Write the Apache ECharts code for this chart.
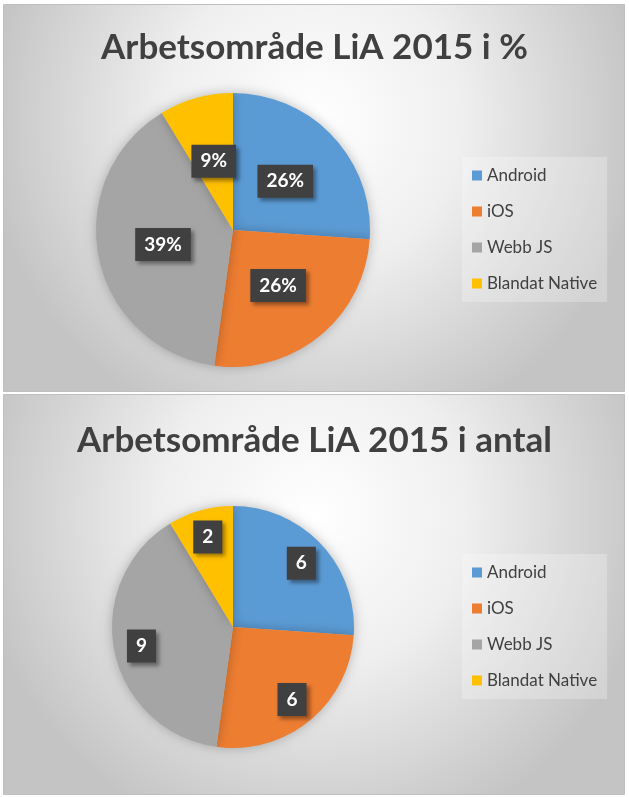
<!DOCTYPE html>
<html>
<head>
<meta charset="utf-8">
<script src="https://cdn.jsdelivr.net/npm/echarts@6/dist/echarts.min.js"></script>
<style>
html,body{margin:0;padding:0;background:#fff;}
#chart{width:629px;height:797px;}
</style>
</head>
<body>
<div id="chart"></div>
<script>
var categories = ['Android', 'iOS', 'Webb JS', 'Blandat Native'];
var values = [6, 6, 9, 2];
var colors = ['#5B9BD5', '#ED7D31', '#A5A5A5', '#FFC000'];
var titles = ['Arbetsområde LiA 2015 i %', 'Arbetsområde LiA 2015 i antal'];

var FONT = 'Lato, "Open Sans", sans-serif';

function pieData() {
  return categories.map(function (c, i) {
    return { name: c, value: values[i], itemStyle: { color: colors[i] } };
  });
}

function labelStyle(fmt) {
  return {
    show: true,
    position: 'inside',
    formatter: fmt,
    color: '#fff',
    fontFamily: FONT,
    fontWeight: 'bold',
    fontSize: 19,
    backgroundColor: '#404040',
    padding: [8, 9, 6, 9],
    shadowColor: 'rgba(0,0,0,0.4)',
    shadowBlur: 4,
    shadowOffsetX: 3,
    shadowOffsetY: 3
  };
}

function panelBg(y, h) {
  return {
    type: 'rect',
    z: -10,
    shape: { x: 3.5, y: y + 0.5, width: 621, height: h },
    style: {
      fill: new echarts.graphic.RadialGradient(0.5, 0.3, 0.85, [
        { offset: 0, color: '#ffffff' },
        { offset: 0.45, color: '#efefef' },
        { offset: 1, color: '#c4c4c4' }
      ]),
      stroke: '#bfbfbf',
      lineWidth: 1
    },
    silent: true
  };
}

function legendAt(top) {
  return {
    data: categories, orient: 'vertical', left: 462, top: top,
    padding: [10, 10, 10, 10], itemWidth: 10, itemHeight: 10, itemGap: 19,
    icon: 'rect', backgroundColor: 'rgba(255,255,255,0.25)',
    textStyle: { fontFamily: FONT, fontSize: 17, lineHeight: 17, color: '#404040' },
    selectedMode: false
  };
}

var chart = echarts.init(document.getElementById('chart'), null, { renderer: 'canvas' });

chart.setOption({
  animation: false,
  graphic: [panelBg(4, 387), panelBg(394, 400)],
  title: [
    {
      text: titles[0], left: 'center', top: 25,
      textStyle: { fontFamily: FONT, fontWeight: 'bold', fontSize: 35, color: '#404040' }
    },
    {
      text: titles[1], left: 'center', top: 418,
      textStyle: { fontFamily: FONT, fontWeight: 'bold', fontSize: 35, color: '#404040' }
    }
  ],
  legend: [legendAt(157), legendAt(554)],
  series: [
    {
      type: 'pie', center: [233, 230], radius: 137, startAngle: 90, clockwise: true,
      data: pieData(),
      itemStyle: { shadowBlur: 12, shadowColor: 'rgba(0,0,0,0.25)' },
      label: labelStyle(function (p) { return Math.round(p.percent) + '%'; }),
      labelLine: { show: false },
      emphasis: { disabled: true }
    },
    {
      type: 'pie', center: [233, 627], radius: 121, startAngle: 90, clockwise: true,
      data: pieData(),
      itemStyle: { shadowBlur: 12, shadowColor: 'rgba(0,0,0,0.25)' },
      label: { show: false },
      labelLine: { show: false },
      emphasis: { disabled: true }
    },
    {
      // label carrier for the lower pie: places value labels further out
      type: 'pie', center: [233, 627], radius: [60, 121], startAngle: 90, clockwise: true,
      data: pieData().map(function (d) { d.itemStyle = { color: 'rgba(0,0,0,0)' }; return d; }),
      silent: true,
      z: 3,
      label: labelStyle(function (p) { return String(p.value); }),
      labelLine: { show: false },
      emphasis: { disabled: true }
    }
  ]
});
</script>
</body>
</html>
